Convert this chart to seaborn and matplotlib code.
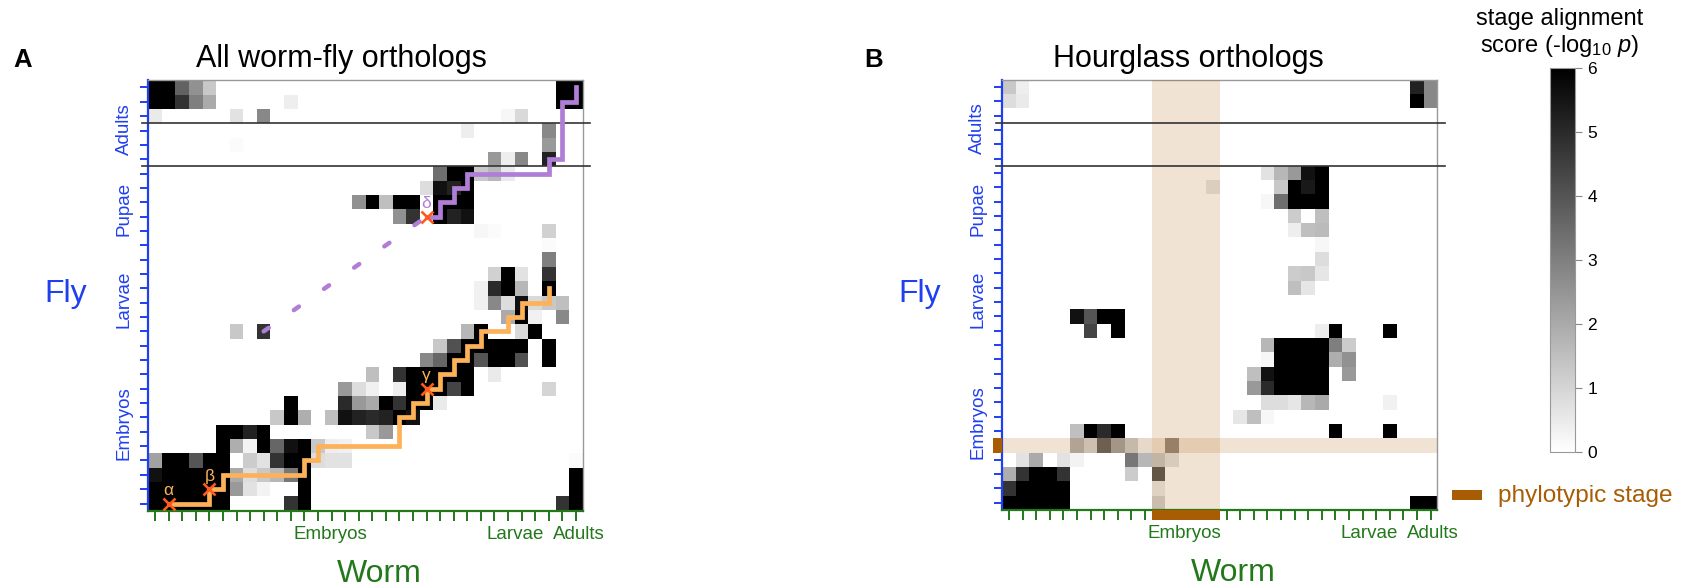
"""
Worm-fly stage alignment heatmaps (all orthologs vs. hourglass orthologs).

Writes out.png (1688 x 587 px).
"""

import matplotlib
matplotlib.use("Agg")  # no display in the sandbox
import matplotlib.colors as mcolors
import matplotlib.pyplot as plt
import matplotlib.transforms as mtransforms
import numpy as np
import seaborn as sns
from matplotlib.patches import Rectangle

# ── Data ──────────────────────────────────────────────────────────────────────
N_WORM = 32   # worm stages (columns)
N_FLY = 30    # fly stages (rows, adult at the top, early embryo at the bottom)

# -log10 p per fly stage row: {worm stage column: score}, empty cells are 0
score_all = [
    {0: 6, 1: 6, 2: 3.7, 3: 2.6, 4: 1.3, 30: 6, 31: 6},
    {0: 6, 1: 6, 2: 4.8, 3: 3.0, 4: 2.0, 10: 0.4, 30: 6, 31: 6},
    {0: 0.5, 6: 0.7, 8: 2.8, 26: 0.2, 27: 0.9},
    {23: 0.4, 29: 2.8},
    {6: 0.1, 29: 2.4},
    {25: 2.4, 26: 0.4, 27: 2.8, 29: 5.2},
    {21: 3.4, 22: 6, 23: 6, 24: 1.3, 25: 1.7, 26: 0.5},
    {20: 0.8, 21: 5.6, 22: 5.2, 23: 6},
    {15: 2.6, 16: 6, 17: 1.5, 18: 6, 19: 6, 21: 6, 22: 6, 23: 6},
    {18: 2.6, 19: 4.8, 21: 6, 22: 5.2, 23: 5.6},
    {24: 0.2, 25: 0.1, 29: 1.1},
    {29: 0.1},
    {29: 3.0},
    {25: 1.1, 26: 6, 27: 0.7, 29: 4.8},
    {24: 0.35, 25: 5.0, 26: 6, 27: 1.7, 29: 6},
    {24: 0.35, 25: 2.8, 26: 0.8, 27: 5.6, 28: 0.9, 29: 1.3, 30: 1.5},
    {26: 2.0, 27: 6, 28: 0.35, 30: 2.8},
    {6: 1.3, 8: 4.8, 23: 1.7, 24: 6, 27: 0.9, 28: 6},
    {21: 1.3, 22: 4.1, 23: 6, 24: 6, 25: 6, 26: 6, 27: 6, 29: 6},
    {20: 2.8, 21: 3.6, 22: 6, 23: 6, 24: 4.0, 25: 6, 26: 6, 27: 4.1, 29: 6},
    {16: 1.5, 18: 4.8, 19: 6, 20: 6, 21: 6, 22: 6, 23: 6, 25: 0.5},
    {14: 2.4, 15: 0.8, 16: 0.35, 18: 0.4, 19: 6, 20: 6, 21: 6, 22: 4.4, 23: 6, 29: 1.0},
    {10: 6, 14: 5.0, 15: 2.4, 16: 2.0, 17: 6, 18: 4.8, 19: 6, 20: 6, 21: 0.5},
    {9: 1.3, 10: 6, 11: 1.9, 13: 1.5, 14: 5.6, 15: 5.2, 16: 5.0, 17: 5.2, 18: 6, 19: 5.6},
    {5: 6, 6: 6, 7: 5.2, 8: 6, 16: 1.3, 17: 2.4},
    {5: 6, 6: 1.9, 7: 0.3, 8: 6, 9: 3.6, 10: 5.6, 11: 6, 12: 1.3, 13: 0.4, 14: 0.35},
    {0: 2.2, 1: 6, 2: 6, 3: 4.0, 4: 6, 5: 6, 7: 1.2, 8: 0.7, 9: 4.8, 10: 6, 11: 6,
     12: 0.8, 13: 0.7, 14: 0.7, 31: 0.1},
    {0: 5.6, 1: 6, 2: 6, 3: 6, 4: 6, 5: 6, 6: 2.0, 7: 0.8, 8: 1.3, 9: 1.7, 10: 3.2, 11: 6, 31: 6},
    {0: 6, 1: 6, 2: 6, 3: 6, 4: 6, 5: 6, 6: 2.4, 7: 0.7, 8: 0.3, 11: 6, 31: 6},
    {0: 6, 1: 6, 2: 6, 3: 6, 4: 6, 5: 6, 10: 4.8, 11: 6, 30: 4.8, 31: 6},
]

score_hourglass = [
    {0: 1.3, 1: 0.4, 30: 5.2, 31: 2.8},
    {0: 0.8, 1: 0.5, 30: 6, 31: 2.8},
    {}, {}, {}, {},
    {19: 0.7, 20: 1.7, 21: 2.4, 22: 5.6, 23: 6},
    {15: 0.6, 20: 1.3, 21: 6, 22: 5.4, 23: 6},
    {19: 0.2, 20: 3.4, 21: 6, 22: 6, 23: 6},
    {21: 1.2, 23: 1.5},
    {21: 0.4, 22: 1.5, 23: 1.6},
    {23: 0.2},
    {23: 0.8},
    {21: 1.2, 22: 1.3, 23: 0.6},
    {21: 1.5, 22: 0.6},
    {},
    {5: 5.6, 6: 4.0, 7: 6, 8: 6},
    {6: 4.4, 8: 6, 23: 0.4, 24: 6, 28: 6},
    {19: 1.7, 20: 6, 21: 6, 22: 6, 23: 6, 24: 3.0, 25: 1.2},
    {19: 0.2, 20: 6, 21: 6, 22: 6, 23: 6, 24: 1.9, 25: 2.6},
    {18: 1.5, 19: 5.6, 20: 6, 21: 6, 22: 6, 23: 6, 25: 2.4},
    {18: 2.4, 19: 5.0, 20: 6, 21: 6, 22: 6, 23: 6},
    {19: 0.8, 20: 0.8, 21: 0.6, 22: 1.7, 23: 2.0, 28: 0.35},
    {17: 0.6, 18: 1.5, 19: 0.2},
    {5: 1.5, 6: 6, 7: 5.0, 8: 6, 24: 6, 28: 6},
    {5: 1.8, 6: 1.0, 7: 3.7, 8: 2.2, 9: 1.2, 10: 0.3, 12: 2.6},
    {1: 0.7, 2: 2.0, 4: 0.7, 5: 0.3, 9: 3.2, 10: 1.7, 11: 1.3, 12: 0.7},
    {0: 1.9, 1: 4.8, 2: 6, 3: 6, 4: 4.8, 9: 1.2, 11: 4.0},
    {0: 4.8, 1: 6, 2: 6, 3: 6, 4: 6, 11: 0.5},
    {0: 6, 1: 6, 2: 6, 3: 6, 4: 6, 11: 1.1, 30: 6, 31: 6},
]

# stage alignment paths (worm column, fly row)
orange_worm = [1, 4, 5, 11, 12, 18, 19, 20, 21, 22, 23, 24, 26, 27, 29]
orange_fly = [29, 28, 27, 26, 25, 23, 22, 21, 20, 19, 18, 17, 16, 15, 14]
purple_worm = [20, 21, 22, 23, 29, 30, 31]
purple_fly = [9, 8, 7, 6, 5, 1, 0]
purple_gap_worm = [8, 20]
purple_gap_fly = [17, 9]

anchor_names = ["α", "β", "γ", "δ"]
anchor_worm = [1, 4, 20, 20]
anchor_fly = [29, 28, 21, 9]

adult_breaks = [3, 6]  # fly row boundaries drawn as black lines

worm_groups = ["Embryos", "Larvae", "Adults"]
worm_group_pos = [13.4, 27.0, 31.7]
fly_groups = ["Adults", "Pupae", "Larvae", "Embryos"]
fly_group_pos = [3.4, 9.0, 15.3, 23.9]

phylo_worm = (11, 16)  # worm phylotypic columns [start, end)
phylo_fly = (25, 26)   # fly phylotypic row

# ── Style ─────────────────────────────────────────────────────────────────────
BLUE = "#2040f0"
GREEN = "#23781c"
BROWN = "#a85c04"
ORANGE = "#fdb25a"
PURPLE = "#b07ed6"
CROSS = "#ff5a1e"

plt.rcParams["font.family"] = ["Liberation Sans", "DejaVu Sans"]
plt.rcParams["mathtext.fontset"] = "custom"
plt.rcParams["mathtext.rm"] = "Liberation Sans"
plt.rcParams["mathtext.it"] = "Liberation Sans:italic"

W, H = 1688, 587


def to_matrix(rows):
    mat = np.zeros((N_FLY, N_WORM))
    for r, cells in enumerate(rows):
        for c, v in cells.items():
            mat[r, c] = v
    return mat


def px_axes(left, top, right, bottom):
    return [left / W, 1 - bottom / H, (right - left) / W, (bottom - top) / H]


def style_panel(ax):
    ax.set_xlim(0, N_WORM)
    ax.set_ylim(N_FLY, 0)
    for side in ax.spines.values():
        side.set_visible(True)
    ax.spines["left"].set_color(BLUE)
    ax.spines["left"].set_linewidth(1.6)
    ax.spines["bottom"].set_color(GREEN)
    ax.spines["bottom"].set_linewidth(1.6)
    for side in ("top", "right"):
        ax.spines[side].set_color("#999999")
        ax.spines[side].set_linewidth(1.0)

    ax.set_xticks(np.arange(N_WORM) + 0.5)
    ax.set_xticklabels([])
    ax.set_yticks(np.arange(N_FLY) + 0.5)
    ax.set_yticklabels([])
    ax.tick_params(axis="x", colors=GREEN, length=7, width=1.4, direction="out")
    ax.tick_params(axis="y", colors=BLUE, length=6, width=1.4, direction="out")

    for y in adult_breaks:
        ax.plot([-0.5, N_WORM + 0.55], [y, y], color="#333333", lw=1.2,
                clip_on=False, zorder=5)

    xtrans = mtransforms.blended_transform_factory(ax.transData, ax.transAxes)
    for name, pos in zip(worm_groups, worm_group_pos):
        ax.text(pos, -0.066, name, transform=xtrans, ha="center", va="baseline",
                fontsize=13.5, color=GREEN)
    ytrans = mtransforms.blended_transform_factory(ax.transAxes, ax.transData)
    for name, pos in zip(fly_groups, fly_group_pos):
        ax.text(-0.056, pos, name, transform=ytrans, ha="center", va="center",
                rotation=90, fontsize=13.5, color=BLUE)

    ax.text(0.531, -0.165, "Worm", transform=ax.transAxes, ha="center",
            va="baseline", fontsize=23, color=GREEN)
    ax.text(-0.191, 0.503, "Fly", transform=ax.transAxes, ha="center",
            va="center", fontsize=23, color=BLUE)


cmap = mcolors.LinearSegmentedColormap.from_list("score", ["white", "black"], N=256)

fig = plt.figure(figsize=(W / 100, H / 100), dpi=100)
ax_a = fig.add_axes(px_axes(148.3, 80.3, 582.7, 510.7))
ax_b = fig.add_axes(px_axes(1002.3, 79.7, 1437.3, 510.0))
cax = fig.add_axes(px_axes(1550, 68.3, 1575, 452.3))

# ── Panel A ───────────────────────────────────────────────────────────────────
sns.heatmap(to_matrix(score_all), ax=ax_a, cmap=cmap, vmin=0, vmax=6,
            cbar=False, xticklabels=False, yticklabels=False)
style_panel(ax_a)

ax_a.step(np.array(orange_worm) + 0.5, np.array(orange_fly) + 0.5, where="post",
          color=ORANGE, lw=3.4, solid_joinstyle="miter", zorder=6)
ax_a.step(np.array(purple_worm) + 0.5, np.array(purple_fly) + 0.5, where="post",
          color=PURPLE, lw=3.4, solid_joinstyle="miter", zorder=6)
ax_a.plot(np.array(purple_gap_worm) + 0.5, np.array(purple_gap_fly) + 0.5,
          color=PURPLE, lw=3.2, dashes=(1.4, 6.9), dash_capstyle="round", zorder=6)

for name, wx, fy in zip(anchor_names, anchor_worm, anchor_fly):
    ax_a.plot(wx + 0.5, fy + 0.5, marker="x", ms=8.5, mew=1.9, color=CROSS, zorder=7)
    ax_a.text(wx + 0.5, fy - 0.1, name, ha="center", va="baseline", fontsize=12.5,
              color=PURPLE if name == "δ" else ORANGE, zorder=7)

# ── Panel B ───────────────────────────────────────────────────────────────────
sns.heatmap(to_matrix(score_hourglass), ax=ax_b, cmap=cmap, vmin=0, vmax=6,
            cbar=True, cbar_ax=cax, xticklabels=False, yticklabels=False)
style_panel(ax_b)

ax_b.axvspan(*phylo_worm, color=BROWN, alpha=0.17, lw=0, zorder=3)
ax_b.axhspan(*phylo_fly, color=BROWN, alpha=0.17, lw=0, zorder=3)
ax_b.add_patch(Rectangle((phylo_worm[0], N_FLY), phylo_worm[1] - phylo_worm[0], 0.72,
                         color=BROWN, lw=0, clip_on=False, zorder=6))
ax_b.add_patch(Rectangle((-0.72, phylo_fly[0]), 0.72, phylo_fly[1] - phylo_fly[0],
                         color=BROWN, lw=0, clip_on=False, zorder=6))

# ── Colour bar and legend ─────────────────────────────────────────────────────
cbar = ax_b.collections[0].colorbar
cbar.set_ticks(range(7))
cbar.ax.tick_params(labelsize=12.5, length=5, width=0.8, color="#888888", pad=4)
cbar.outline.set_edgecolor("#999999")
cbar.outline.set_linewidth(0.8)

fig.text(1560 / W, 1 - 25 / H, "stage alignment", ha="center", va="baseline", fontsize=17)
fig.text(1560 / W, 1 - 52 / H, r"score (-log$_{10}$ $\mathit{p}$)", ha="center",
         va="baseline", fontsize=17)

fig.add_artist(Rectangle((1452 / W, 1 - 500 / H), 30 / W, 10 / H, color=BROWN,
                         lw=0, transform=fig.transFigure))
fig.text(1498 / W, 1 - 501.7 / H, "phylotypic stage", ha="left", va="baseline",
         fontsize=17.6, color=BROWN)

# ── Titles and panel letters ──────────────────────────────────────────────────
fig.text(341 / W, 1 - 66.7 / H, "All worm-fly orthologs", ha="center",
         va="baseline", fontsize=22)
fig.text(1188 / W, 1 - 66.7 / H, "Hourglass orthologs", ha="center",
         va="baseline", fontsize=22)
fig.text(13 / W, 1 - 67 / H, "A", ha="left", va="baseline", fontsize=18.5,
         fontweight="bold")
fig.text(864 / W, 1 - 67 / H, "B", ha="left", va="baseline", fontsize=18.5,
         fontweight="bold")

fig.savefig("out.png", dpi=100)
plt.close(fig)
